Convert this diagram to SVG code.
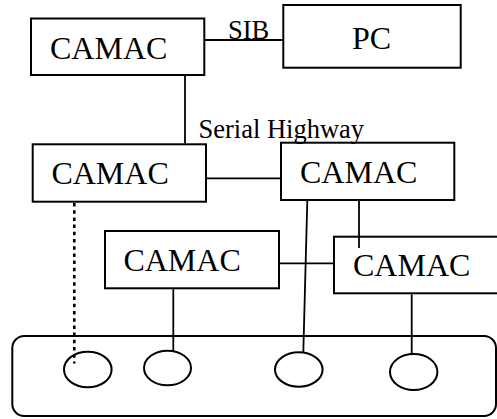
<svg xmlns="http://www.w3.org/2000/svg" width="497" height="419" viewBox="0 0 497 419">
<style>
.box{fill:#fff;stroke:#000;stroke-width:2}
.big{font-family:"Liberation Serif","Times New Roman",serif;font-size:32px;fill:#000}
.small{font-family:"Liberation Serif","Times New Roman",serif;font-size:26.5px;fill:#000}
.ln{stroke:#000;stroke-width:1.8;fill:none}
.dot{stroke:#000;stroke-width:2.6;stroke-dasharray:3.5 3.7;fill:none}
</style>
<rect width="497" height="419" fill="#fff"/>
<g id="bus">
<rect class="box" x="12.3" y="336" width="483.7" height="80" rx="12" ry="12"/>
</g>
<g id="camac1">
<rect class="box" x="31" y="18.5" width="173.3" height="56.5"/>
<text class="big" x="50" y="58.5">CAMAC</text>
</g>
<g id="pc">
<rect class="box" x="283.3" y="5" width="177.4" height="62.7"/>
<text class="big" x="352" y="49">PC</text>
</g>
<g id="camac2">
<rect class="box" x="32.7" y="144.3" width="173.3" height="57.4"/>
<text class="big" x="51.4" y="184.3">CAMAC</text>
</g>
<g id="camac3">
<rect class="box" x="281" y="142.7" width="173.3" height="57.3"/>
<text class="big" x="300" y="182.7">CAMAC</text>
</g>
<g id="camac5">
<rect class="box" x="105" y="231" width="174" height="57.3"/>
<text class="big" x="123.4" y="270.7">CAMAC</text>
</g>
<g id="camac4">
<rect class="box" x="334" y="236.7" width="180" height="56.6"/>
<text class="big" x="353" y="276">CAMAC</text>
</g>
<g id="ports">
<ellipse class="ln" style="stroke-width:2" cx="87.8" cy="369.5" rx="23.8" ry="17.8"/>
<ellipse class="ln" style="stroke-width:2" cx="167.5" cy="368" rx="23.5" ry="17.3"/>
<ellipse class="ln" style="stroke-width:2" cx="298.8" cy="369.5" rx="23.8" ry="17.2"/>
<ellipse class="ln" style="stroke-width:2" cx="413.7" cy="372" rx="23.7" ry="18"/>
</g>
<g id="connectors">
<line class="ln" x1="205" y1="40" x2="282.5" y2="40"/>
<line class="ln" x1="185" y1="76" x2="185" y2="143.5"/>
<line class="ln" x1="207" y1="178.3" x2="280" y2="178.3"/>
<line class="ln" x1="307.3" y1="201" x2="303.3" y2="352.3"/>
<line class="ln" x1="359" y1="201" x2="359" y2="248"/>
<line class="ln" x1="280" y1="263.3" x2="333" y2="263.3"/>
<line class="ln" x1="173.3" y1="289.3" x2="173.3" y2="351"/>
<line class="ln" x1="411.7" y1="294.3" x2="411.7" y2="354"/>
<line class="dot" x1="74.3" y1="203" x2="74.3" y2="363.5"/>
</g>
<g id="labels">
<text class="small" x="228" y="39">SIB</text>
<text class="small" x="198.5" y="137.7">Serial Highway</text>
</g>
</svg>
